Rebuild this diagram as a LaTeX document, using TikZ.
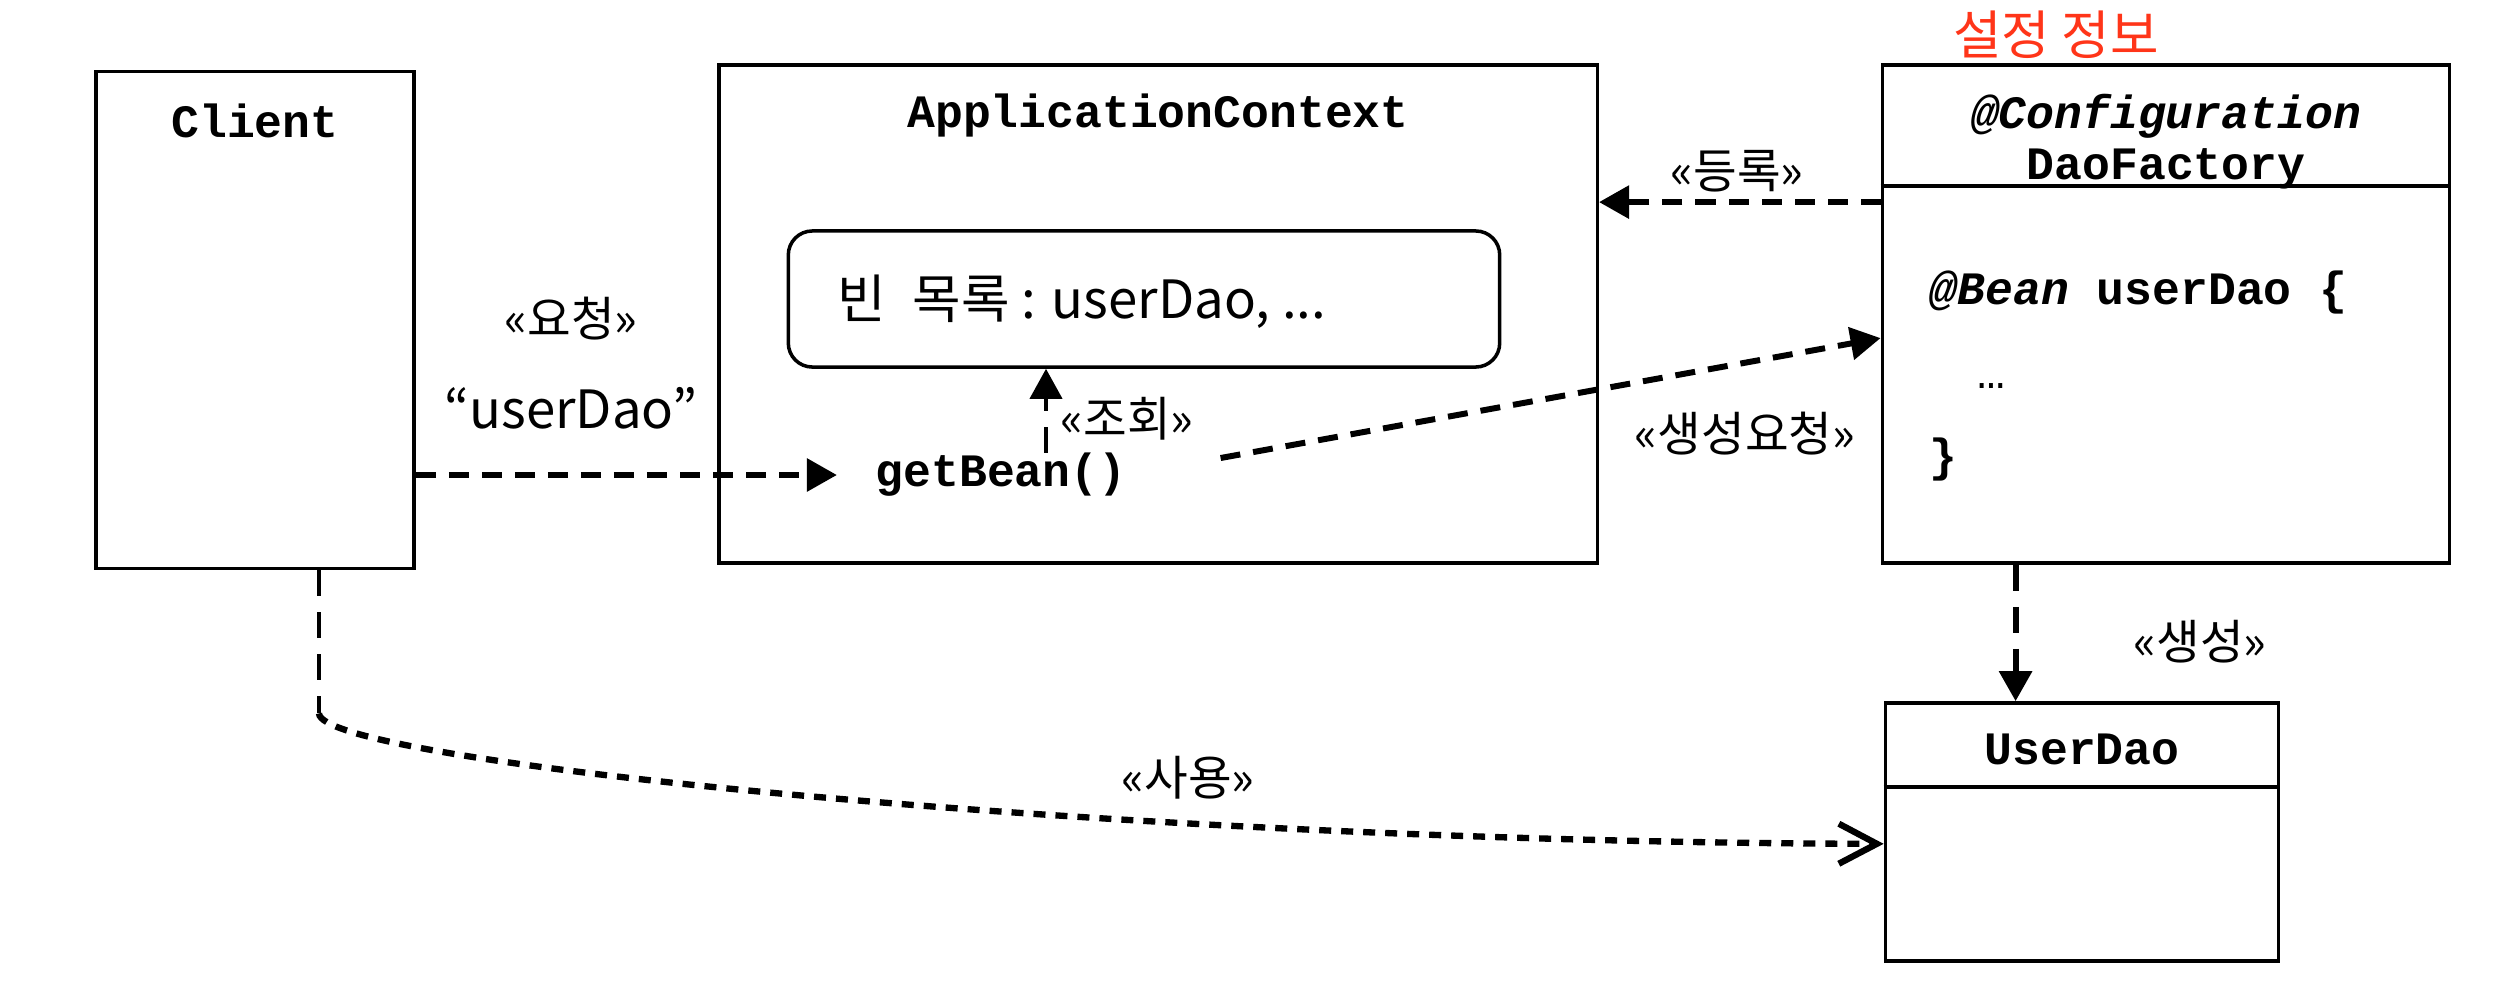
\documentclass[tikz,border=0pt]{standalone}
\usepackage{fontspec}
\setmonofont{Liberation Mono}
\newfontfamily\kor{Noto Sans CJK KR}
\usepackage{xcolor}
\definecolor{redNote}{HTML}{FF3519}
\usetikzlibrary{arrows.meta,calc}

\begin{document}
\begin{tikzpicture}[x=0.01cm,y=-0.01cm,
 box/.style={draw,line width=1pt,inner sep=0pt},
 beanbox/.style={draw,line width=1pt,rounded corners=2.4mm,
 minimum width=7.11cm,minimum height=1.36cm},
 code/.style={font=\fontsize{13.2}{16}\selectfont\ttfamily\bfseries,inner sep=0pt},
 codeit/.style={code,font=\fontsize{13.2}{16}\selectfont\ttfamily\bfseries\itshape},
 lbl/.style={font=\kor\fontsize{13.5}{16}\selectfont,inner sep=0pt},
 biglbl/.style={lbl,font=\kor\fontsize{15}{18}\selectfont},
 arr/.style={line width=1.7pt,dash pattern=on 2mm off 1.3mm,
 -{Triangle[length=3mm,width=3.2mm]}},
 thinarr/.style={arr,line width=1.1pt,dash pattern=on 2.6mm off 1.6mm},
 usearr/.style={line width=1.8pt,dash pattern=on 1.2mm off 1mm,
 -{Straight Barb[length=3.8mm,width=4mm]}}]
 \useasboundingbox (0,0) rectangle (2500,1000);
 % client
 \node[box,minimum width=3.18cm,minimum height=4.97cm] (client) at (255,320) {};
 \node[code] (clientname) at (255,121) {Client};
 % application context
 \node[box,minimum width=8.78cm,minimum height=4.98cm] (appctx) at (1158,314) {};
 \node[code] (appname) at (1158,115) {ApplicationContext};
 \node[beanbox] (beans) at (1144,299) {};
 \node[biglbl,anchor=west] (beanlist) at (837,302) {빈\hspace{0.5em}목록 : userDao, ...};
 \node[code] (getbean) at (1001,475) {getBean()};
 % dao factory
 \node[box,minimum width=5.67cm,minimum height=4.98cm] (daofactory) at (2166,314) {};
 \draw[line width=1pt] ($(daofactory.north west)+(0,123)$) -- ($(daofactory.north east)+(0,123)$);
 \node[codeit] (confname) at (2166,116) {@Configuration};
 \node[code] (factname) at (2166,169) {DaoFactory};
 \node[code,anchor=west] (beanmethod) at (1929,292) {\textit{@Bean} userDao \{};
 \node[code,anchor=west,font=\fontsize{13.2}{16}\selectfont\ttfamily] (dots) at (1977,386) {…};
 \node[code,anchor=west] (closebrace) at (1929,459) {\}};
 \node[biglbl,text=redNote] (setting) at (2056,35) {설정 정보};
 % user dao
 \node[box,minimum width=3.93cm,minimum height=2.58cm] (userdao) at (2082,832) {};
 \draw[line width=1pt] ($(userdao.north west)+(0,86)$) -- ($(userdao.north east)+(0,86)$);
 \node[code] (udname) at (2082,749) {UserDao};
 % labels
 \node[lbl] (reqlbl) at (571,319) {«요청»};
 \node[biglbl] (namelbl) at (571,408) {“userDao”};
 \node[lbl] (lookuplbl) at (1127,419) {«조회»};
 \node[lbl] (reglbl) at (1737,171) {«등록»};
 \node[lbl] (createreqlbl) at (1745,434) {«생성요청»};
 \node[lbl] (createlbl) at (2200,642) {«생성»};
 \node[lbl] (uselbl) at (1188,778) {«사용»};
 % connectors
 \draw[arr,shorten >=3.8mm] (client.east |- getbean.west) -- (getbean.west);
 \coordinate (lookup) at ($(getbean.north)+(45,0)$);
 \draw[thinarr] (lookup) -- (lookup |- beans.south);
 \draw[arr,shorten <=9.5mm] (getbean.east) -- ($(daofactory.north west)+(0,275)$);
 \draw[arr] ($(daofactory.north west)+(0,139)$) -- ($(appctx.north east)+(0,139)$);
 \coordinate (make) at ($(daofactory.south west)+(135,0)$);
 \draw[arr,dash pattern=on 2.6mm off 1.6mm] (make) -- (make |- userdao.north);
 \coordinate (use) at ($(client.south)+(64,0)$);
 \coordinate (bend) at ($(use)+(0,143)$);
 \draw[line width=1.1pt,dash pattern=on 2.6mm off 1.6mm] (use) -- (bend);
 \draw[usearr] (bend) .. controls +(0,48) and (1100,842)
 .. ($(userdao.south west)+(0,-119)$);
\end{tikzpicture}
\end{document}
